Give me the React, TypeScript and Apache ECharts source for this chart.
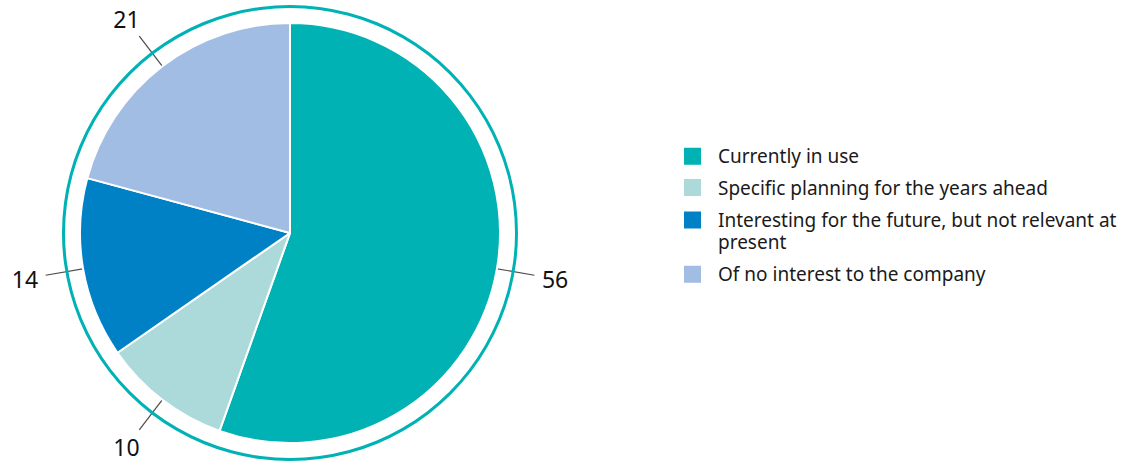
import React, { useEffect, useRef } from "react";
import * as echarts from "echarts";

const categories = [
  "Currently in use",
  "Specific planning for the years ahead",
  "Interesting for the future, but not relevant at present",
  "Of no interest to the company",
];
const values = [56, 10, 14, 21];
const colors = ["#00b2b4", "#acd9da", "#0080c5", "#a2bde3"];
const ringColor = "#00b2b4";

const CX = 290;
const CY = 233;
const FONT = "'Noto Sans', sans-serif";

export default function App() {
  const ref = useRef<HTMLDivElement>(null);
  useEffect(() => {
    document.body.style.margin = "0";
    if (!ref.current) return;
    const chart = echarts.init(ref.current, null, { renderer: "svg" });
    const data = categories.map((name, i) => ({ name, value: values[i] }));
    const transparentData = data.map((d) => ({ ...d, itemStyle: { color: "transparent" } }));

    const iconCenters = [156.3, 187.5, 220, 274.2];
    const lh = 22;
    const legends = categories.map((name, i) => {
      const multi = i === 2;
      return {
        data: [name],
        orient: "vertical",
        left: 682,
        top: multi ? iconCenters[i] - (3 * lh) / 2 : iconCenters[i] - lh / 2,
        padding: 0,
        icon: "rect",
        itemWidth: 19,
        itemHeight: 19,
        selectedMode: false,
        formatter: multi ? (n: string) => "\n" + n.replace(" at present", " at\npresent") : undefined,
        textStyle: {
          fontFamily: FONT,
          fontSize: 19,
          color: "#1a1a1a",
          lineHeight: lh,
          padding: [0, 0, 0, 11],
        },
      };
    });

    chart.setOption({
      animation: false,
      color: colors,
      legend: legends,
      series: [
        {
          type: "pie",
          center: [CX, CY],
          radius: 210,
          startAngle: 90,
          clockwise: true,
          silent: true,
          data,
          label: { show: false },
          labelLine: { show: false },
          itemStyle: { borderColor: "#ffffff", borderWidth: 2 },
        },
        {
          type: "pie",
          center: [CX, CY],
          radius: 203,
          startAngle: 90,
          clockwise: true,
          silent: true,
          avoidLabelOverlap: false,
          data: transparentData,
          label: { show: true, formatter: " ", fontSize: 2 },
          labelLine: {
            show: true,
            length: 45,
            length2: 0,
            lineStyle: { color: "#4a4a4a", width: 1.2 },
          },
        },
        {
          type: "pie",
          center: [CX, CY],
          radius: [246, 286],
          startAngle: 90,
          clockwise: true,
          silent: true,
          avoidLabelOverlap: false,
          data: transparentData,
          label: {
            show: true,
            position: "inside",
            formatter: "{c}",
            fontFamily: FONT,
            fontSize: 23,
            color: "#111111",
          },
          labelLine: { show: false },
        },
        {
          type: "pie",
          center: [CX, CY],
          radius: [225, 228],
          silent: true,
          data: [{ name: "ring", value: 1, itemStyle: { color: ringColor } }],
          label: { show: false },
          labelLine: { show: false },
        },
      ],
    });
    return () => chart.dispose();
  }, []);
  return <div ref={ref} style={{ width: 1131, height: 463 }} />;
}
